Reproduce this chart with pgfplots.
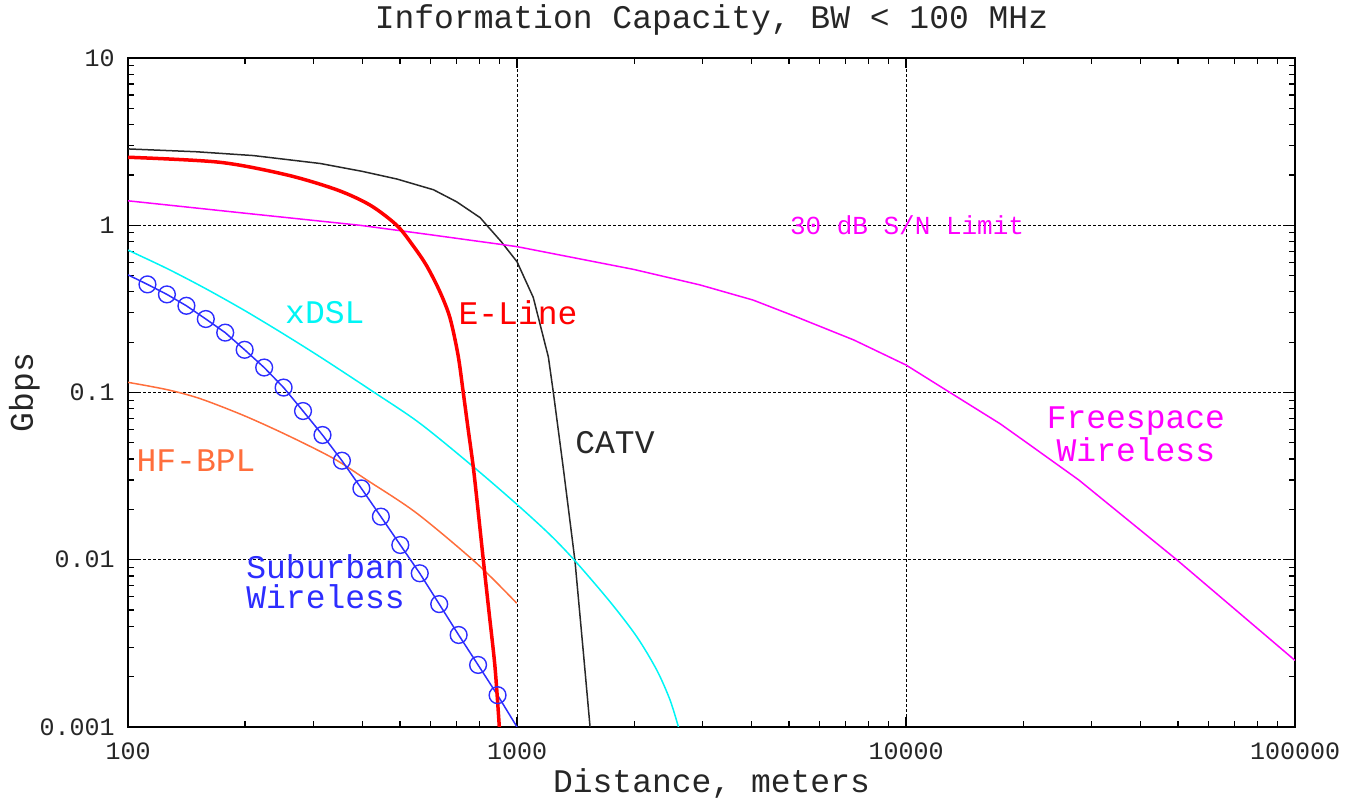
\documentclass[border=0pt]{standalone}
\usepackage{pgfplots}
\pgfplotsset{compat=1.18}
\usepackage{fontspec}
\setmainfont{Liberation Mono}
\usetikzlibrary{calc}
\definecolor{cCyan}{RGB}{0,245,245}
\definecolor{cOrange}{RGB}{255,110,60}
\definecolor{cBlue}{RGB}{45,45,255}
\definecolor{cMag}{RGB}{255,0,255}
\definecolor{cRed}{RGB}{255,0,0}
\definecolor{cBlack}{RGB}{40,40,40}
\newcommand{\labfont}{\fontsize{16.5}{15}\selectfont}
\begin{document}
\begin{tikzpicture}
\begin{axis}[
  scale only axis, width=583.5pt, height=334.5pt,
  xmode=log, ymode=log,
  xmin=100, xmax=100000, ymin=0.001, ymax=10,
  xtick={100,1000,10000,100000}, xticklabels={100,1000,10000,100000},
  ytick={0.001,0.01,0.1,1,10}, yticklabels={0.001,0.01,0.1,1,10},
  minor xtick={200,300,400,500,600,700,800,900,2000,3000,4000,5000,6000,7000,8000,9000,20000,30000,40000,50000,60000,70000,80000,90000},
  minor ytick={0.002,0.003,0.004,0.005,0.006,0.007,0.008,0.009,0.02,0.03,0.04,0.05,0.06,0.07,0.08,0.09,0.2,0.3,0.4,0.5,0.6,0.7,0.8,0.9,2,3,4,5,6,7,8,9},
  tick align=inside,
  major tick length=5pt, minor tick length=3pt,
  every tick/.style={black, line width=0.6pt},
  xmajorgrids, ymajorgrids,
  major grid style={black, line width=0.5pt, dash pattern=on 1.5pt off 1pt},
  axis line style={black, line width=0.9pt},
  tick label style={font=\fontsize{12.5}{14}\selectfont, text=black!85},
  xticklabel style={anchor=base, inner sep=0pt, yshift=-16.5pt},
  yticklabel style={anchor=east, inner sep=0pt, xshift=-6.5pt},
  /pgf/number format/assume math mode=true,
  xlabel={Distance, meters},
  xlabel style={at={(0.5,0)}, anchor=base, yshift=-33pt, inner sep=0pt, font=\fontsize{16.5}{18}\selectfont, text=black!85},
]
% CATV
\addplot[cBlack, line width=0.75pt] coordinates {
(100,2.86) (150,2.75) (210,2.61) (312,2.34) (400,2.10) (491,1.89) (610,1.63) (700,1.38) (804,1.11) (836,1.00) (910,0.80) (1000,0.605) (1101,0.37) (1204,0.163) (1240,0.10) (1315,0.0354) (1409,0.0099) (1483,0.0027) (1541,0.001)};
% Freespace wireless
\addplot[cMag, line width=0.75pt] coordinates {
(100,1.40) (200,1.18) (394,1.00) (600,0.877) (903,0.77) (1000,0.745) (1991,0.545) (2951,0.44) (4045,0.357) (5210,0.284) (7345,0.206) (10000,0.146) (12970,0.100) (17460,0.065) (20460,0.050) (27800,0.030) (49650,0.010) (100000,0.0025)};
% xDSL
\addplot[cCyan, line width=0.75pt, smooth] coordinates {
(100,0.71) (126,0.551) (158,0.419) (200,0.308) (251,0.224) (316,0.160) (427,0.101) (562,0.0656) (773,0.0359) (1000,0.0214) (1216,0.0141) (1409,0.00986) (1734,0.00561) (2031,0.00347) (2287,0.00219) (2474,0.00145) (2600,0.001)};
% HF-BPL
\addplot[cOrange, line width=0.75pt, smooth] coordinates {
(100,0.115) (126,0.104) (153,0.092) (198,0.073) (256,0.0557) (337,0.0404) (411,0.030) (552,0.019) (787,0.00953) (998,0.0055)};
% Suburban wireless line
\addplot[cBlue, line width=0.75pt] coordinates {
(100,0.505) (112.2,0.443) (125.9,0.386) (141.3,0.330) (158.5,0.275) (177.8,0.228) (199.5,0.180) (223.9,0.141) (251.2,0.107) (281.8,0.0775) (316.2,0.0557) (354.8,0.0391) (398.1,0.0267) (446.7,0.0181) (501.2,0.01225) (562.3,0.0083) (631.0,0.00543) (707.9,0.00355) (794.3,0.00235) (891.3,0.00155) (1000,0.001)};
\addplot[cBlue, only marks, mark=o, mark size=4.2pt, mark options={line width=0.7pt}] coordinates {
(112.2,0.443) (125.9,0.386) (141.3,0.330) (158.5,0.275) (177.8,0.228) (199.5,0.180) (223.9,0.141) (251.2,0.107) (281.8,0.0775) (316.2,0.0557) (354.8,0.0391) (398.1,0.0267) (446.7,0.0181) (501.2,0.01225) (562.3,0.0083) (631.0,0.00543) (707.9,0.00355) (794.3,0.00235) (891.3,0.00155)};
% E-Line
\addplot[cRed, line width=1.75pt, line join=round, smooth] coordinates {
(100,2.55) (172,2.38) (256,2.00) (344,1.63) (419,1.32) (490.6,1.0) (541.3,0.751) (586.1,0.571) (634,0.399) (672.6,0.279) (705.4,0.1675) (727.8,0.0993) (748.2,0.0613) (772.1,0.0358) (793.9,0.01984) (819.2,0.00997) (847.3,0.00487) (877.9,0.00228) (900.6,0.001)};
% labels
\node[text=cCyan, font=\labfont, inner sep=0pt] at (axis cs:320.6,0.299) {xDSL};
\node[text=cRed, font=\labfont, inner sep=0pt] at (axis cs:1006,0.299) {E-Line};
\node[text=cBlack, font=\labfont, inner sep=0pt] at (axis cs:1786,0.0499) {CATV};
\node[text=cOrange, font=\labfont, inner sep=0pt] at (axis cs:149.6,0.0389) {HF-BPL};
\node[text=cBlue, font=\labfont, inner sep=0pt, anchor=west, align=left] at (axis cs:201,0.00736) {Suburban\\Wireless};
\node[text=cMag, font=\fontsize{16.5}{16.5}\selectfont, inner sep=0pt, align=center] at (axis cs:38990,0.0565) {Freespace\\Wireless};
\node[text=cMag, font=\fontsize{13}{14}\selectfont, inner sep=0pt] at (axis cs:10060,1) {30 dB S/N Limit};
\end{axis}
\node[anchor=base, inner sep=0pt, font=\fontsize{16.5}{18}\selectfont, text=black!85] at ($(current axis.north)+(0,14.5pt)$) {Information Capacity, BW < 100 MHz};
\node[rotate=90, anchor=base, inner sep=0pt, font=\fontsize{16.5}{18}\selectfont, text=black!85] at ($(current axis.west)+(-47.5pt,0)$) {Gbps};
\pgfresetboundingbox
\path[use as bounding box] ($(current axis.south west)+(-64pt,-37.5pt)$) rectangle ($(current axis.north east)+(26pt,29pt)$);
\end{tikzpicture}
\end{document}
